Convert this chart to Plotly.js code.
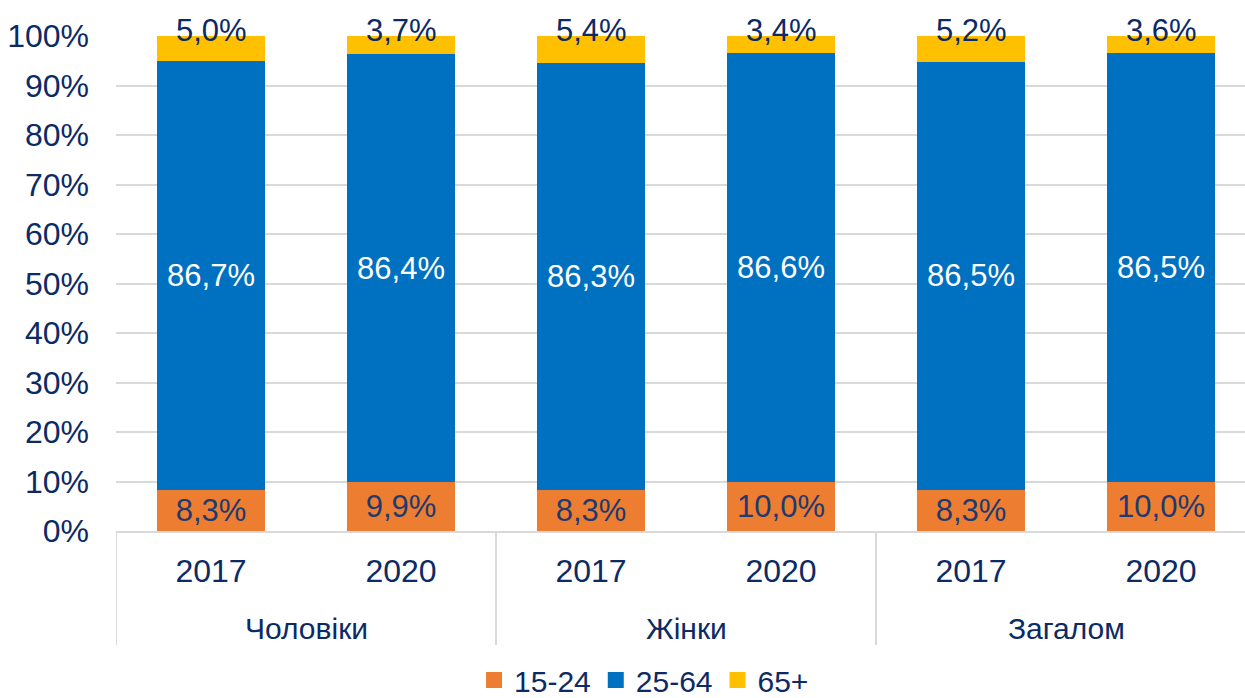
<!DOCTYPE html>
<html>
<head>
<meta charset="utf-8">
<script src="https://cdn.plot.ly/plotly-3.0.1.min.js"></script>
<style>html,body{margin:0;padding:0;background:#fff;overflow:hidden}#chart{width:1245px;height:698px}</style>
</head>
<body>
<div id="chart"></div>
<script>
const groups = ['Чоловіки', 'Чоловіки', 'Жінки', 'Жінки', 'Загалом', 'Загалом'];
const years = ['2017', '2020', '2017', '2020', '2017', '2020'];
const seriesNames = ['15-24', '25-64', '65+'];
const age15_24 = [8.3, 9.9, 8.3, 10.0, 8.3, 10.0];
const age25_64 = [86.7, 86.4, 86.3, 86.6, 86.5, 86.5];
const age65plus = [5.0, 3.7, 5.4, 3.4, 5.2, 3.6];
const colors = ['#ED7D31', '#0070C0', '#FFC000'];

const navy = '#0B2A66';
const fontFam = '"Liberation Sans", Arial, sans-serif';
const fmt = v => v.toFixed(1).replace('.', ',') + '%';
const xIdx = years.map((_, i) => i);

function bar(name, vals, color, showText, textColor) {
  return {
    type: 'bar', name: name, x: xIdx, y: vals,
    marker: {color: color},
    width: 0.57,
    showlegend: false,
    text: showText ? vals.map(fmt) : undefined,
    textposition: showText ? 'inside' : 'none',
    insidetextanchor: 'middle',
    textfont: {family: fontFam, size: 31, color: textColor},
    hoverinfo: 'none'
  };
}

const data = [
  bar(seriesNames[0], age15_24, colors[0], true, '#1F3A6E'),
  bar(seriesNames[1], age25_64, colors[1], true, '#FFFFFF'),
  bar(seriesNames[2], age65plus, colors[2], false, navy)
];
// legend entries (square swatches)
seriesNames.forEach((n, k) => data.push({
  type: 'scatter', mode: 'markers', name: n, x: [null], y: [null],
  marker: {symbol: 'square', size: 16, color: colors[k]},
  showlegend: true, hoverinfo: 'none'
}));

// top-segment labels (anchored at the stack top, capped at the 100% axis end)
const annotations = age65plus.map((v, i) => ({
  x: xIdx[i], xref: 'x', yref: 'y',
  y: Math.min(100, age15_24[i] + age25_64[i] + v),
  text: fmt(v), showarrow: false, yanchor: 'middle', yshift: 6,
  font: {family: fontFam, size: 31, color: navy}
}));

// group labels and dividers
const shapes = [];
const uniq = [...new Set(groups)];
uniq.forEach(g => {
  const idx = xIdx.filter(i => groups[i] === g);
  const lo = Math.min(...idx), hi = Math.max(...idx);
  annotations.push({
    x: (lo + hi) / 2, xref: 'x', y: -0.196, yref: 'paper',
    text: g, showarrow: false, yanchor: 'middle',
    font: {family: fontFam, size: 30, color: navy}
  });
  shapes.push({
    type: 'line', xref: 'x', yref: 'paper', x0: lo - 0.5, x1: lo - 0.5, y0: 0, y1: -0.2303,
    line: {color: '#D9D9D9', width: 2}
  });
});

const layout = {
  width: 1245, height: 698,
  margin: {l: 116, r: 0, t: 36, b: 167, autoexpand: false},
  barmode: 'stack',
  showlegend: true,
  font: {family: fontFam, size: 31, color: navy},
  paper_bgcolor: '#fff', plot_bgcolor: '#fff',
  xaxis: {
    range: [-0.5, 5.442],
    tickvals: xIdx, ticktext: years,
    showgrid: false, zeroline: false,
    showline: true, linecolor: '#D9D9D9', linewidth: 2,
    tickfont: {family: fontFam, size: 32, color: navy},
    ticks: '', ticklabelstandoff: 11,
    fixedrange: true
  },
  yaxis: {
    range: [0, 100], dtick: 10, ticksuffix: '%',
    showgrid: true, gridcolor: '#D9D9D9', gridwidth: 2,
    zeroline: false, showline: false,
    ticks: '', ticklabelstandoff: 26,
    tickfont: {family: fontFam, size: 32, color: navy},
    fixedrange: true
  },
  legend: {
    orientation: 'h', x: 0.4677, xanchor: 'center', y: -0.301, yanchor: 'middle',
    font: {family: fontFam, size: 30, color: navy},
    traceorder: 'normal', itemwidth: 30
  },
  annotations: annotations,
  shapes: shapes
};

Plotly.newPlot('chart', data, layout, {displayModeBar: false, staticPlot: true});
</script>
</body>
</html>
